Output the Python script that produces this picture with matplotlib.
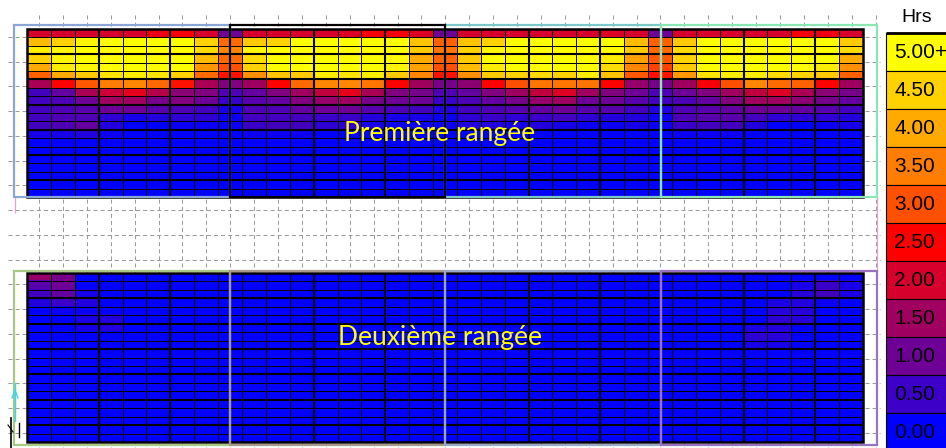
import numpy as np
import matplotlib
matplotlib.use("Agg")
import matplotlib.pyplot as plt
from matplotlib.colors import LinearSegmentedColormap
from matplotlib.patches import Rectangle

# Colour scale (hours)
scale_values = [0.0, 0.5, 1.0, 1.5, 2.0, 2.5, 3.0, 3.5, 4.0, 4.5, 5.0]
scale_labels = ["0.00", "0.50", "1.00", "1.50", "2.00", "2.50",
                "3.00", "3.50", "4.00", "4.50", "5.00+"]
scale_colors = ["#0000ff", "#3c00c8", "#6e0096", "#a0005f", "#d7002d", "#ff0000",
                "#ff5000", "#ff7d00", "#ffaa00", "#ffd200", "#ffff00"]
scale_title = "Hrs"

panel_titles = ["Première rangée", "Deuxième rangée"]

# First row of modules: one list per column (35 columns), 20 cells from top to bottom
first_row_hours = [
    [2.0, 4.2, 4.8, 4.5, 4.0, 3.2, 1.6, 0.6, 0.6, 0.6, 0.6, 0.6, 0.2, 0, 0, 0, 0, 0, 0, 0],
    [2.0, 4.5, 4.9, 4.9, 4.8, 4.0, 2.5, 0.9, 0.7, 0.7, 0.7, 0.7, 0.2, 0, 0, 0, 0, 0, 0, 0],
    [2.0, 4.9, 5.0, 5.0, 4.9, 4.4, 3.1, 1.6, 1.0, 0.8, 0.7, 0.9, 0.3, 0, 0, 0, 0, 0, 0, 0],
    [2.0, 5.0, 5.0, 5.0, 5.0, 4.7, 3.5, 1.9, 1.5, 1.0, 0.4, 0.3, 0.1, 0, 0, 0, 0, 0, 0, 0],
    [2.0, 5.0, 5.0, 5.0, 5.0, 4.8, 3.6, 2.2, 1.5, 1.0, 0.2, 0.0, 0.0, 0, 0, 0, 0, 0, 0, 0],
    [2.3, 5.0, 5.0, 5.0, 5.0, 4.7, 3.3, 1.7, 1.1, 0.8, 0.3, 0.0, 0.0, 0, 0, 0, 0, 0, 0, 0],
    [2.4, 5.0, 5.0, 5.0, 5.0, 4.5, 2.6, 1.3, 1.2, 0.7, 0.4, 0.1, 0.0, 0, 0, 0, 0, 0, 0, 0],
    [2.0, 4.5, 4.6, 4.2, 3.8, 3.3, 1.6, 1.2, 1.0, 0.6, 0.4, 0.1, 0.0, 0, 0, 0, 0, 0, 0, 0],
    [1.0, 3.3, 3.6, 3.3, 3.0, 2.6, 1.2, 0.7, 0.5, 0.2, 0.1, 0.1, 0.0, 0, 0, 0, 0, 0, 0, 0],
    [2.0, 4.4, 4.9, 4.6, 4.5, 3.7, 1.5, 0.9, 0.8, 0.7, 0.6, 0.5, 0.1, 0, 0, 0, 0, 0, 0, 0],
    [2.0, 4.5, 5.0, 5.0, 5.0, 4.3, 2.5, 1.2, 0.9, 0.7, 0.6, 0.6, 0.1, 0, 0, 0, 0, 0, 0, 0],
    [2.0, 5.0, 5.0, 5.0, 5.0, 4.4, 3.3, 1.5, 1.2, 0.9, 0.6, 0.6, 0.1, 0, 0, 0, 0, 0, 0, 0],
    [2.0, 5.0, 5.0, 5.0, 5.0, 4.8, 3.6, 1.8, 1.4, 1.0, 0.5, 0.4, 0.0, 0, 0, 0, 0, 0, 0, 0],
    [2.1, 5.0, 5.0, 5.0, 5.0, 4.7, 3.6, 2.2, 1.5, 1.0, 0.5, 0.4, 0.0, 0, 0, 0, 0, 0, 0, 0],
    [2.4, 5.0, 5.0, 5.0, 5.0, 4.8, 3.4, 1.6, 1.1, 0.8, 0.3, 0.2, 0.0, 0, 0, 0, 0, 0, 0, 0],
    [2.4, 5.0, 5.0, 5.0, 4.9, 4.4, 2.5, 1.2, 1.0, 0.7, 0.2, 0.1, 0.0, 0, 0, 0, 0, 0, 0, 0],
    [2.1, 4.3, 4.4, 4.0, 3.9, 3.6, 1.5, 1.1, 1.0, 0.6, 0.2, 0.1, 0.0, 0, 0, 0, 0, 0, 0, 0],
    [1.0, 3.2, 3.4, 3.2, 3.0, 2.6, 1.1, 0.7, 0.5, 0.3, 0.1, 0.1, 0.0, 0, 0, 0, 0, 0, 0, 0],
    [2.0, 4.3, 4.5, 4.4, 4.2, 3.7, 1.3, 0.9, 0.7, 0.6, 0.4, 0.3, 0.0, 0, 0, 0, 0, 0, 0, 0],
    [2.0, 4.5, 4.9, 5.0, 4.8, 4.4, 2.5, 1.2, 0.9, 0.7, 0.5, 0.3, 0.0, 0, 0, 0, 0, 0, 0, 0],
    [2.0, 5.0, 5.0, 5.0, 5.0, 4.5, 3.0, 1.5, 1.1, 0.8, 0.4, 0.2, 0.0, 0, 0, 0, 0, 0, 0, 0],
    [2.0, 5.0, 5.0, 5.0, 5.0, 4.6, 3.4, 1.8, 1.4, 0.9, 0.5, 0.3, 0.0, 0, 0, 0, 0, 0, 0, 0],
    [2.0, 5.0, 5.0, 5.0, 5.0, 4.5, 3.4, 2.1, 1.5, 1.0, 0.6, 0.2, 0.0, 0, 0, 0, 0, 0, 0, 0],
    [2.0, 5.0, 5.0, 5.0, 5.0, 4.8, 3.4, 1.5, 1.0, 0.8, 0.4, 0.1, 0.0, 0, 0, 0, 0, 0, 0, 0],
    [2.1, 5.0, 5.0, 4.8, 4.6, 4.3, 2.5, 1.2, 1.0, 0.8, 0.3, 0.1, 0.0, 0, 0, 0, 0, 0, 0, 0],
    [2.0, 4.2, 4.4, 3.9, 3.6, 3.1, 1.4, 1.0, 0.8, 0.6, 0.3, 0.2, 0.0, 0, 0, 0, 0, 0, 0, 0],
    [1.0, 3.2, 3.3, 3.1, 2.9, 2.6, 1.1, 0.7, 0.6, 0.3, 0.1, 0.1, 0.0, 0, 0, 0, 0, 0, 0, 0],
    [2.0, 4.4, 4.6, 4.5, 4.4, 3.8, 1.5, 1.0, 0.7, 0.7, 0.7, 0.5, 0.1, 0, 0, 0, 0, 0, 0, 0],
    [2.0, 5.0, 5.0, 5.0, 5.0, 4.7, 2.4, 1.2, 0.9, 0.8, 0.8, 0.6, 0.1, 0, 0, 0, 0, 0, 0, 0],
    [2.0, 5.0, 5.0, 5.0, 5.0, 4.8, 3.0, 1.5, 1.2, 0.9, 0.8, 0.6, 0.1, 0, 0, 0, 0, 0, 0, 0],
    [2.0, 5.0, 5.0, 5.0, 5.0, 4.8, 3.6, 1.8, 1.5, 1.0, 0.6, 0.3, 0.0, 0, 0, 0, 0, 0, 0, 0],
    [2.0, 5.0, 5.0, 5.0, 5.0, 4.6, 3.3, 2.1, 1.5, 1.0, 0.4, 0.0, 0.0, 0, 0, 0, 0, 0, 0, 0],
    [2.4, 5.0, 5.0, 5.0, 5.0, 4.5, 3.2, 1.6, 1.3, 0.9, 0.4, 0.0, 0.0, 0, 0, 0, 0, 0, 0, 0],
    [2.3, 5.0, 5.0, 5.0, 4.8, 4.4, 2.5, 1.3, 1.1, 0.8, 0.4, 0.1, 0.0, 0, 0, 0, 0, 0, 0, 0],
    [2.0, 4.4, 4.6, 4.0, 3.7, 3.2, 1.5, 1.1, 0.9, 0.6, 0.3, 0.2, 0.0, 0, 0, 0, 0, 0, 0, 0],
]

# Second row of modules: one list per cell row (20 rows), 35 columns from left to right
second_row_hours = [
    [1.4, 1.1, 0, 0, 0,  0, 0, 0, 0, 0,  0, 0, 0, 0, 0,  0, 0, 0, 0, 0,  0, 0, 0, 0, 0,  0, 0, 0, 0, 0,  0, 0, 0, 0, 0],
    [0.8, 1.0, 0, 0, 0,  0, 0, 0, 0, 0,  0, 0, 0, 0, 0,  0, 0, 0, 0, 0,  0, 0, 0, 0, 0,  0, 0, 0, 0, 0,  0, 0, 0.2, 0.5, 0.2],
    [0.6, 0.9, 0.2, 0, 0,  0, 0, 0, 0, 0,  0, 0, 0, 0, 0,  0, 0, 0, 0, 0,  0, 0, 0, 0, 0,  0, 0, 0, 0, 0,  0, 0, 0.35, 0.6, 0.25],
    [0.3, 0.5, 0.3, 0, 0,  0, 0, 0, 0, 0,  0, 0, 0, 0, 0,  0, 0, 0, 0, 0,  0, 0, 0, 0, 0,  0, 0, 0, 0, 0,  0, 0.25, 0.3, 0.1, 0],
    [0, 0.1, 0.1, 0, 0,  0, 0, 0, 0, 0,  0, 0, 0, 0, 0,  0, 0, 0, 0, 0,  0, 0, 0, 0, 0,  0, 0, 0, 0, 0,  0, 0.35, 0.35, 0, 0],
    [0, 0, 0.25, 0.3, 0,  0, 0, 0, 0, 0,  0, 0, 0, 0, 0,  0, 0, 0, 0, 0,  0, 0, 0, 0, 0,  0, 0, 0, 0, 0,  0, 0.4, 0.35, 0, 0],
    [0, 0, 0.2, 0.3, 0,  0, 0, 0, 0, 0,  0, 0, 0, 0, 0,  0, 0, 0, 0, 0,  0, 0, 0, 0, 0,  0, 0, 0, 0, 0,  0.25, 0.3, 0, 0, 0],
    [0, 0, 0, 0, 0,  0, 0, 0, 0, 0,  0, 0, 0, 0, 0,  0, 0, 0, 0, 0,  0, 0, 0, 0, 0,  0, 0, 0, 0, 0,  0.4, 0.35, 0, 0, 0],
    [0, 0, 0, 0, 0,  0, 0, 0, 0, 0,  0, 0, 0, 0, 0,  0, 0, 0, 0, 0,  0, 0, 0, 0, 0,  0, 0, 0, 0, 0,  0.2, 0.2, 0, 0, 0],
    [0, 0, 0, 0, 0,  0, 0, 0, 0, 0,  0, 0, 0, 0, 0,  0, 0, 0, 0, 0,  0, 0, 0, 0, 0,  0, 0, 0, 0, 0,  0, 0, 0, 0, 0],
    [0, 0, 0, 0, 0,  0, 0, 0, 0, 0,  0, 0, 0, 0, 0,  0, 0, 0, 0, 0,  0, 0, 0, 0, 0,  0, 0, 0, 0, 0,  0, 0, 0, 0, 0],
    [0, 0, 0, 0, 0,  0, 0, 0, 0, 0,  0, 0, 0, 0, 0,  0, 0, 0, 0, 0,  0, 0, 0, 0, 0,  0, 0, 0, 0, 0,  0, 0, 0, 0, 0],
    [0, 0, 0, 0, 0,  0, 0, 0, 0, 0,  0, 0, 0, 0, 0,  0, 0, 0, 0, 0,  0, 0, 0, 0, 0,  0, 0, 0, 0, 0,  0, 0, 0, 0, 0],
    [0, 0, 0, 0, 0,  0, 0, 0, 0, 0,  0, 0, 0, 0, 0,  0, 0, 0, 0, 0,  0, 0, 0, 0, 0,  0, 0, 0, 0, 0,  0, 0, 0, 0, 0],
    [0, 0, 0, 0, 0,  0, 0, 0, 0, 0,  0, 0, 0, 0, 0,  0, 0, 0, 0, 0,  0, 0, 0, 0, 0,  0, 0, 0, 0, 0,  0, 0, 0, 0, 0],
    [0, 0, 0, 0, 0,  0, 0, 0, 0, 0,  0, 0, 0, 0, 0,  0, 0, 0, 0, 0,  0, 0, 0, 0, 0,  0, 0, 0, 0, 0,  0, 0, 0, 0, 0],
    [0, 0, 0, 0, 0,  0, 0, 0, 0, 0,  0, 0, 0, 0, 0,  0, 0, 0, 0, 0,  0, 0, 0, 0, 0,  0, 0, 0, 0, 0,  0, 0, 0, 0, 0],
    [0, 0, 0, 0, 0,  0, 0, 0, 0, 0,  0, 0, 0, 0, 0,  0, 0, 0, 0, 0,  0, 0, 0, 0, 0,  0, 0, 0, 0, 0,  0, 0, 0, 0, 0],
    [0, 0, 0, 0, 0,  0, 0, 0, 0, 0,  0, 0, 0, 0, 0,  0, 0, 0, 0, 0,  0, 0, 0, 0, 0,  0, 0, 0, 0, 0,  0, 0, 0, 0, 0],
    [0, 0, 0, 0, 0,  0, 0, 0, 0, 0,  0, 0, 0, 0, 0,  0, 0, 0, 0, 0,  0, 0, 0, 0, 0,  0, 0, 0, 0, 0,  0, 0, 0, 0, 0],
]

# ---------------------------------------------------------------- layout
W, H = 946, 448
fig = plt.figure(figsize=(W / 100, H / 100), dpi=100)
fig.patch.set_facecolor("white")


def px_axes(x0, y0, x1, y1, **kw):
    """Axes placed with pixel edges measured from the top-left corner."""
    return fig.add_axes([x0 / W, 1 - y1 / H, (x1 - x0) / W, (y1 - y0) / H], **kw)


def canvas(ax):
    ax.set_xlim(0, W)
    ax.set_ylim(H, 0)
    ax.axis("off")
    ax.patch.set_alpha(0)


# background: dashed reference grid
bg = px_axes(0, 0, W, H, zorder=0)
canvas(bg)
grid_style = dict(colors="#9c9c9c", linewidth=0.75, linestyles=(0, (3.9, 2.9)))
bg.vlines(np.arange(39, 880, 23.9), 15, H, **grid_style)
bg.hlines(np.arange(37, H, 24.75), 8, 880, **grid_style)
bg.vlines([15], 197, 213, colors="#e8a0d0", linewidth=0.9)
bg.vlines([877], 197, 271, colors="#e8a0d0", linewidth=0.9)

# heat maps
cmap = LinearSegmentedColormap.from_list(
    "hrs", list(zip(np.array(scale_values) / scale_values[-1], scale_colors)))

panels = [np.array(first_row_hours, dtype=float).T,
          np.array(second_row_hours, dtype=float)]
panel_px = [(27, 29, 863, 197), (27, 273, 863, 442)]
thick_cols = [3, 6, 12, 15, 21, 24, 30, 33]

for data, (x0, y0, x1, y1) in zip(panels, panel_px):
    ax = px_axes(x0, y0, x1, y1, zorder=1)
    nrows, ncols = data.shape
    ax.imshow(data, cmap=cmap, vmin=scale_values[0], vmax=scale_values[-1],
              aspect="auto", interpolation="nearest",
              extent=(0, ncols, nrows, 0))
    ax.set_xlim(0, ncols)
    ax.set_ylim(nrows, 0)
    ax.hlines(np.arange(1, nrows), 0, ncols, colors="black", linewidth=0.7)
    ax.vlines(np.arange(1, ncols), 0, nrows, colors="black", linewidth=0.7)
    ax.hlines(np.arange(3, nrows, 3), 0, ncols, colors="black", linewidth=1.5)
    ax.vlines(thick_cols, 0, nrows, colors="black", linewidth=1.5)
    ax.add_patch(Rectangle((0, 0), ncols, nrows, fill=False, ec="black",
                           linewidth=1.8, clip_on=False))
    ax.axis("off")

# overlay: section frames, titles, colour key
ov = px_axes(0, 0, W, H, zorder=3)
canvas(ov)

frame_x = [14, 230, 445, 661, 877]
top_frames = ["#8aa6d6", "#000000", "#7cc8c8", "#8ae6b2"]
bottom_frames = ["#a8c884", "#a89a8a", "#9aa8c8", "#9a72c2"]
for k in [0, 2, 3, 1]:          # black section frame drawn last
    ov.add_patch(Rectangle((frame_x[k], 25), frame_x[k + 1] - frame_x[k], 172,
                           fill=False, ec=top_frames[k], linewidth=1.6))
for k in range(4):
    ov.add_patch(Rectangle((frame_x[k], 271), frame_x[k + 1] - frame_x[k], 174,
                           fill=False, ec=bottom_frames[k], linewidth=1.6))

title_font = dict(family=["Lato", "DejaVu Sans"], fontsize=19, color="#ffff00",
                  ha="center", va="center")
ov.text(440, 134, panel_titles[0], **title_font)
ov.text(440, 337, panel_titles[1], **title_font)

# small axis marker in the lower-left corner
ov.plot([15, 15], [383, 421], color="#3cd8e6", linewidth=1.0)
ov.plot([12, 15, 18], [398, 390, 398], color="#3cd8e6", linewidth=1.0)
ov.plot([11, 11], [418, 448], color="black", linewidth=1.2)
ov.plot([19, 19], [423, 437], color="black", linewidth=1.0)
ov.plot([8, 13], [425, 432], color="black", linewidth=0.8)

# colour key
key_x0, key_x1, key_top, key_h = 886, 950, 33, 38
for i, (lab, col) in enumerate(zip(scale_labels[::-1], scale_colors[::-1])):
    y = key_top + i * key_h
    ov.add_patch(Rectangle((key_x0, y), key_x1 - key_x0, key_h, fc=col,
                           ec="black", linewidth=0.8))
    ov.text(894, y + key_h / 2 + 1, lab, family="Liberation Sans", fontsize=15,
            color="black", ha="left", va="center")
ov.hlines([key_top], key_x0, W, colors="black", linewidth=2)
ov.text(917, 17, scale_title, family="Liberation Sans", fontsize=14,
        color="black", ha="center", va="center")

fig.savefig("out.png", dpi=100, facecolor="white")
